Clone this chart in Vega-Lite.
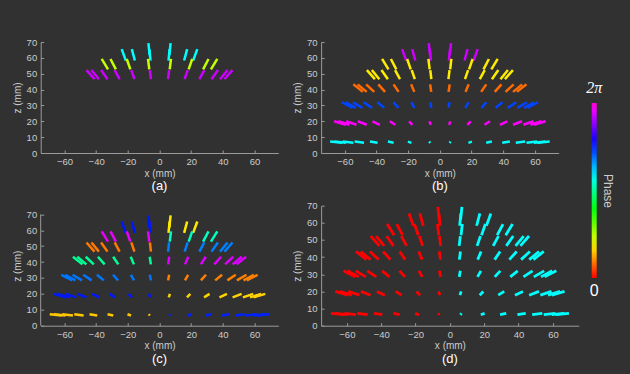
{
  "$schema": "https://vega.github.io/schema/vega-lite/v6.json",
  "autosize": {"type": "none"},
  "padding": {"left": 40.7, "top": 42, "right": 589.3, "bottom": 332},
  "background": "#313131",
  "data": {"values": [
    {"r":8,"xo":-7,"zo":69.3,"xi":-6.23,"zi":61.68,"pa":3.65,"pb":5.84,"pc":4.76,"pd":0},
    {"r":8,"xo":7,"zo":69.3,"xi":6.23,"zi":61.68,"pa":3.65,"pb":5.84,"pc":1.11,"pd":3.65},
    {"r":7,"xo":-6.39,"zo":65.5,"xi":-5.69,"zi":58.3,"pa":3.65,"pb":5.84,"pc":4.76,"pd":0},
    {"r":7,"xo":-17.47,"zo":65.5,"xi":-15.55,"zi":58.3,"pa":3.65,"pb":5.84,"pc":4.76,"pd":0},
    {"r":7,"xo":-23.86,"zo":65.5,"xi":-21.24,"zi":58.3,"pa":3.65,"pb":5.84,"pc":4.76,"pd":0},
    {"r":7,"xo":6.39,"zo":65.5,"xi":5.69,"zi":58.3,"pa":3.65,"pb":5.84,"pc":1.11,"pd":3.65},
    {"r":7,"xo":17.47,"zo":65.5,"xi":15.55,"zi":58.3,"pa":3.65,"pb":5.84,"pc":1.11,"pd":3.65},
    {"r":7,"xo":23.86,"zo":65.5,"xi":21.24,"zi":58.3,"pa":3.65,"pb":5.84,"pc":1.11,"pd":3.65},
    {"r":6,"xo":-7.26,"zo":59.3,"xi":-6.46,"zi":52.78,"pa":1.48,"pb":1.13,"pc":5.98,"pd":0},
    {"r":6,"xo":-20.67,"zo":59.3,"xi":-18.4,"zi":52.78,"pa":1.48,"pb":1.13,"pc":5.98,"pd":0},
    {"r":6,"xo":-30.93,"zo":59.3,"xi":-27.53,"zi":52.78,"pa":1.48,"pb":1.13,"pc":5.98,"pd":0},
    {"r":6,"xo":-36.49,"zo":59.3,"xi":-32.48,"zi":52.78,"pa":1.48,"pb":1.13,"pc":5.98,"pd":0},
    {"r":6,"xo":7.26,"zo":59.3,"xi":6.46,"zi":52.78,"pa":1.48,"pb":1.13,"pc":3.34,"pd":3.65},
    {"r":6,"xo":20.67,"zo":59.3,"xi":18.4,"zi":52.78,"pa":1.48,"pb":1.13,"pc":3.34,"pd":3.65},
    {"r":6,"xo":30.93,"zo":59.3,"xi":27.53,"zi":52.78,"pa":1.48,"pb":1.13,"pc":3.34,"pd":3.65},
    {"r":6,"xo":36.49,"zo":59.3,"xi":32.48,"zi":52.78,"pa":1.48,"pb":1.13,"pc":3.34,"pd":3.65},
    {"r":5,"xo":-6.07,"zo":52.3,"xi":-5.4,"zi":46.55,"pa":5.84,"pb":1.13,"pc":0.57,"pd":0},
    {"r":5,"xo":-17.8,"zo":52.3,"xi":-15.84,"zi":46.55,"pa":5.84,"pb":1.13,"pc":0.57,"pd":0},
    {"r":5,"xo":-28.29,"zo":52.3,"xi":-25.18,"zi":46.55,"pa":5.84,"pb":1.13,"pc":0.57,"pd":0},
    {"r":5,"xo":-36.89,"zo":52.3,"xi":-32.83,"zi":46.55,"pa":5.84,"pb":1.13,"pc":0.57,"pd":0},
    {"r":5,"xo":-42.96,"zo":52.3,"xi":-38.23,"zi":46.55,"pa":5.84,"pb":1.13,"pc":0.57,"pd":0},
    {"r":5,"xo":-46.1,"zo":52.3,"xi":-41.03,"zi":46.55,"pa":5.84,"pb":1.13,"pc":0.57,"pd":0},
    {"r":5,"xo":6.07,"zo":52.3,"xi":5.4,"zi":46.55,"pa":5.84,"pb":1.13,"pc":4.26,"pd":3.65},
    {"r":5,"xo":17.8,"zo":52.3,"xi":15.84,"zi":46.55,"pa":5.84,"pb":1.13,"pc":4.26,"pd":3.65},
    {"r":5,"xo":28.29,"zo":52.3,"xi":25.18,"zi":46.55,"pa":5.84,"pb":1.13,"pc":4.26,"pd":3.65},
    {"r":5,"xo":36.89,"zo":52.3,"xi":32.83,"zi":46.55,"pa":5.84,"pb":1.13,"pc":4.26,"pd":3.65},
    {"r":5,"xo":42.96,"zo":52.3,"xi":38.23,"zi":46.55,"pa":5.84,"pb":1.13,"pc":4.26,"pd":3.65},
    {"r":5,"xo":46.1,"zo":52.3,"xi":41.03,"zi":46.55,"pa":5.84,"pb":1.13,"pc":4.26,"pd":3.65},
    {"r":4,"xo":-6.16,"zo":43.3,"xi":-5.48,"zi":38.54,"pb":0.51,"pc":3.14,"pd":0},
    {"r":4,"xo":-18.17,"zo":43.3,"xi":-16.17,"zi":38.54,"pb":0.51,"pc":3.14,"pd":0},
    {"r":4,"xo":-29.26,"zo":43.3,"xi":-26.04,"zi":38.54,"pb":0.51,"pc":3.14,"pd":0},
    {"r":4,"xo":-38.89,"zo":43.3,"xi":-34.61,"zi":38.54,"pb":0.51,"pc":3.14,"pd":0},
    {"r":4,"xo":-46.57,"zo":43.3,"xi":-41.45,"zi":38.54,"pb":0.51,"pc":3.14,"pd":0},
    {"r":4,"xo":-51.91,"zo":43.3,"xi":-46.2,"zi":38.54,"pb":0.51,"pc":3.14,"pd":0},
    {"r":4,"xo":-54.65,"zo":43.3,"xi":-48.64,"zi":38.54,"pb":0.51,"pc":3.14,"pd":0},
    {"r":4,"xo":6.16,"zo":43.3,"xi":5.48,"zi":38.54,"pb":0.51,"pc":5.92,"pd":3.65},
    {"r":4,"xo":18.17,"zo":43.3,"xi":16.17,"zi":38.54,"pb":0.51,"pc":5.92,"pd":3.65},
    {"r":4,"xo":29.26,"zo":43.3,"xi":26.04,"zi":38.54,"pb":0.51,"pc":5.92,"pd":3.65},
    {"r":4,"xo":38.89,"zo":43.3,"xi":34.61,"zi":38.54,"pb":0.51,"pc":5.92,"pd":3.65},
    {"r":4,"xo":46.57,"zo":43.3,"xi":41.45,"zi":38.54,"pb":0.51,"pc":5.92,"pd":3.65},
    {"r":4,"xo":51.91,"zo":43.3,"xi":46.2,"zi":38.54,"pb":0.51,"pc":5.92,"pd":3.65},
    {"r":4,"xo":54.65,"zo":43.3,"xi":48.64,"zi":38.54,"pb":0.51,"pc":5.92,"pd":3.65},
    {"r":3,"xo":-6.1,"zo":32,"xi":-5.43,"zi":28.48,"pb":4.54,"pc":4.3,"pd":0},
    {"r":3,"xo":-18.07,"zo":32,"xi":-16.08,"zi":28.48,"pb":4.54,"pc":4.3,"pd":0},
    {"r":3,"xo":-29.35,"zo":32,"xi":-26.12,"zi":28.48,"pb":4.54,"pc":4.3,"pd":0},
    {"r":3,"xo":-39.5,"zo":32,"xi":-35.16,"zi":28.48,"pb":4.54,"pc":4.3,"pd":0},
    {"r":3,"xo":-48.13,"zo":32,"xi":-42.84,"zi":28.48,"pb":4.54,"pc":4.3,"pd":0},
    {"r":3,"xo":-54.91,"zo":32,"xi":-48.87,"zi":28.48,"pb":4.54,"pc":4.3,"pd":0},
    {"r":3,"xo":-59.58,"zo":32,"xi":-53.03,"zi":28.48,"pb":4.54,"pc":4.3,"pd":0},
    {"r":3,"xo":-61.96,"zo":32,"xi":-55.14,"zi":28.48,"pb":4.54,"pc":4.3,"pd":0},
    {"r":3,"xo":6.1,"zo":32,"xi":5.43,"zi":28.48,"pb":4.54,"pc":0.61,"pd":3.65},
    {"r":3,"xo":18.07,"zo":32,"xi":16.08,"zi":28.48,"pb":4.54,"pc":0.61,"pd":3.65},
    {"r":3,"xo":29.35,"zo":32,"xi":26.12,"zi":28.48,"pb":4.54,"pc":0.61,"pd":3.65},
    {"r":3,"xo":39.5,"zo":32,"xi":35.16,"zi":28.48,"pb":4.54,"pc":0.61,"pd":3.65},
    {"r":3,"xo":48.13,"zo":32,"xi":42.84,"zi":28.48,"pb":4.54,"pc":0.61,"pd":3.65},
    {"r":3,"xo":54.91,"zo":32,"xi":48.87,"zi":28.48,"pb":4.54,"pc":0.61,"pd":3.65},
    {"r":3,"xo":59.58,"zo":32,"xi":53.03,"zi":28.48,"pb":4.54,"pc":0.61,"pd":3.65},
    {"r":3,"xo":61.96,"zo":32,"xi":55.14,"zi":28.48,"pb":4.54,"pc":0.61,"pd":3.65},
    {"r":2,"xo":-6.57,"zo":20,"xi":-5.85,"zi":17.8,"pb":6.08,"pc":4.75,"pd":0},
    {"r":2,"xo":-19.47,"zo":20,"xi":-17.33,"zi":17.8,"pb":6.08,"pc":4.75,"pd":0},
    {"r":2,"xo":-31.62,"zo":20,"xi":-28.14,"zi":17.8,"pb":6.08,"pc":4.75,"pd":0},
    {"r":2,"xo":-42.56,"zo":20,"xi":-37.88,"zi":17.8,"pb":6.08,"pc":4.75,"pd":0},
    {"r":2,"xo":-51.85,"zo":20,"xi":-46.15,"zi":17.8,"pb":6.08,"pc":4.75,"pd":0},
    {"r":2,"xo":-59.16,"zo":20,"xi":-52.65,"zi":17.8,"pb":6.08,"pc":4.75,"pd":0},
    {"r":2,"xo":-64.19,"zo":20,"xi":-57.13,"zi":17.8,"pb":6.08,"pc":4.75,"pd":0},
    {"r":2,"xo":-66.76,"zo":20,"xi":-59.42,"zi":17.8,"pb":6.08,"pc":4.75,"pd":0},
    {"r":2,"xo":6.57,"zo":20,"xi":5.85,"zi":17.8,"pb":6.08,"pc":1.01,"pd":3.65},
    {"r":2,"xo":19.47,"zo":20,"xi":17.33,"zi":17.8,"pb":6.08,"pc":1.01,"pd":3.65},
    {"r":2,"xo":31.62,"zo":20,"xi":28.14,"zi":17.8,"pb":6.08,"pc":1.01,"pd":3.65},
    {"r":2,"xo":42.56,"zo":20,"xi":37.88,"zi":17.8,"pb":6.08,"pc":1.01,"pd":3.65},
    {"r":2,"xo":51.85,"zo":20,"xi":46.15,"zi":17.8,"pb":6.08,"pc":1.01,"pd":3.65},
    {"r":2,"xo":59.16,"zo":20,"xi":52.65,"zi":17.8,"pb":6.08,"pc":1.01,"pd":3.65},
    {"r":2,"xo":64.19,"zo":20,"xi":57.13,"zi":17.8,"pb":6.08,"pc":1.01,"pd":3.65},
    {"r":2,"xo":66.76,"zo":20,"xi":59.42,"zi":17.8,"pb":6.08,"pc":1.01,"pd":3.65},
    {"r":1,"xo":-6.82,"zo":7.2,"xi":-6.07,"zi":6.41,"pb":3.65,"pc":0.95,"pd":0},
    {"r":1,"xo":-20.21,"zo":7.2,"xi":-17.99,"zi":6.41,"pb":3.65,"pc":0.95,"pd":0},
    {"r":1,"xo":-32.82,"zo":7.2,"xi":-29.21,"zi":6.41,"pb":3.65,"pc":0.95,"pd":0},
    {"r":1,"xo":-44.17,"zo":7.2,"xi":-39.31,"zi":6.41,"pb":3.65,"pc":0.95,"pd":0},
    {"r":1,"xo":-53.82,"zo":7.2,"xi":-47.9,"zi":6.41,"pb":3.65,"pc":0.95,"pd":0},
    {"r":1,"xo":-61.41,"zo":7.2,"xi":-54.65,"zi":6.41,"pb":3.65,"pc":0.95,"pd":0},
    {"r":1,"xo":-66.63,"zo":7.2,"xi":-59.3,"zi":6.41,"pb":3.65,"pc":0.95,"pd":0},
    {"r":1,"xo":-69.3,"zo":7.2,"xi":-61.68,"zi":6.41,"pb":3.65,"pc":0.95,"pd":0},
    {"r":1,"xo":6.82,"zo":7.2,"xi":6.07,"zi":6.41,"pb":3.65,"pc":4.7,"pd":3.65},
    {"r":1,"xo":20.21,"zo":7.2,"xi":17.99,"zi":6.41,"pb":3.65,"pc":4.7,"pd":3.65},
    {"r":1,"xo":32.82,"zo":7.2,"xi":29.21,"zi":6.41,"pb":3.65,"pc":4.7,"pd":3.65},
    {"r":1,"xo":44.17,"zo":7.2,"xi":39.31,"zi":6.41,"pb":3.65,"pc":4.7,"pd":3.65},
    {"r":1,"xo":53.82,"zo":7.2,"xi":47.9,"zi":6.41,"pb":3.65,"pc":4.7,"pd":3.65},
    {"r":1,"xo":61.41,"zo":7.2,"xi":54.65,"zi":6.41,"pb":3.65,"pc":4.7,"pd":3.65},
    {"r":1,"xo":66.63,"zo":7.2,"xi":59.3,"zi":6.41,"pb":3.65,"pc":4.7,"pd":3.65},
    {"r":1,"xo":69.3,"zo":7.2,"xi":61.68,"zi":6.41,"pb":3.65,"pc":4.7,"pd":3.65}
  ]},
  "columns": 2,
  "align": "each",
  "bounds": "flush",
  "spacing": {"row": 52.7, "column": 42.4},
  "resolve": {"scale": {"color": "shared"}, "legend": {"color": "shared"}},
  "concat": [
    {
      "width": 237.6, "height": 111,
      "title": "(a)",
      "transform": [{"filter": "datum.r >= 5"}],
      "mark": {"type": "rule", "strokeWidth": 2.5, "strokeCap": "butt"},
      "encoding": {
        "x": {"field": "xo", "type": "quantitative", "scale": {"domain": [-75, 75], "nice": false, "zero": false}, "axis": {"values": [-60, -40, -20, 0, 20, 40, 60], "title": "x (mm)"}},
        "x2": {"field": "xi"},
        "y": {"field": "zo", "type": "quantitative", "scale": {"domain": [0, 70], "nice": false}, "axis": {"values": [0, 10, 20, 30, 40, 50, 60, 70], "title": "z (mm)"}},
        "y2": {"field": "zi"},
        "color": {"field": "pa", "type": "quantitative", "title": "Phase",
          "scale": {"type": "linear", "domain": [0, 1.2158, 2.4322, 3.6481, 4.8645, 6.0803, 6.2832], "range": ["#ff0000", "#ffff00", "#00ff00", "#00ffff", "#0000ff", "#ff00ff", "#ff00d5"], "interpolate": "rgb"},
          "legend": {"values": [0, 6.2832], "labelExpr": "datum.value < 1 ? '0' : '2π'",
            "encode": {"labels": {"update": {"x": {"value": 2.5}, "align": {"value": "center"}, "baseline": {"signal": "datum.value < 1 ? 'top' : 'bottom'"}, "dy": {"signal": "datum.value < 1 ? 5 : -7"}, "fontStyle": {"signal": "datum.value < 1 ? 'normal' : 'italic'"}, "font": {"signal": "datum.value < 1 ? 'Liberation Sans' : 'Liberation Serif'"}}}}}}
      }
    },
    {
      "width": 237.6, "height": 111,
      "title": "(b)",
      "mark": {"type": "rule", "strokeWidth": 2.5, "strokeCap": "butt"},
      "encoding": {
        "x": {"field": "xo", "type": "quantitative", "scale": {"domain": [-75, 75], "nice": false, "zero": false}, "axis": {"values": [-60, -40, -20, 0, 20, 40, 60], "title": "x (mm)"}},
        "x2": {"field": "xi"},
        "y": {"field": "zo", "type": "quantitative", "scale": {"domain": [0, 70], "nice": false}, "axis": {"values": [0, 10, 20, 30, 40, 50, 60, 70], "title": "z (mm)"}},
        "y2": {"field": "zi"},
        "color": {"field": "pb", "type": "quantitative", "title": "Phase",
          "scale": {"type": "linear", "domain": [0, 1.2158, 2.4322, 3.6481, 4.8645, 6.0803, 6.2832], "range": ["#ff0000", "#ffff00", "#00ff00", "#00ffff", "#0000ff", "#ff00ff", "#ff00d5"], "interpolate": "rgb"},
          "legend": {"values": [0, 6.2832], "labelExpr": "datum.value < 1 ? '0' : '2π'",
            "encode": {"labels": {"update": {"x": {"value": 2.5}, "align": {"value": "center"}, "baseline": {"signal": "datum.value < 1 ? 'top' : 'bottom'"}, "dy": {"signal": "datum.value < 1 ? 5 : -7"}, "fontStyle": {"signal": "datum.value < 1 ? 'normal' : 'italic'"}, "font": {"signal": "datum.value < 1 ? 'Liberation Sans' : 'Liberation Serif'"}}}}}}
      }
    },
    {
      "width": 237.6, "height": 120,
      "title": "(c)",
      "layer": [
        {
          "mark": {"type": "rule", "strokeWidth": 2.5, "strokeCap": "butt"},
          "encoding": {
            "x": {"field": "xo", "type": "quantitative", "title": "x (mm)", "scale": {"domain": [-75, 75], "nice": false, "zero": false}, "axis": {"values": [-60, -40, -20, 0, 20, 40, 60], "title": "x (mm)"}},
            "x2": {"field": "xi"},
            "y": {"field": "zo", "type": "quantitative", "title": "z (mm)", "scale": {"domain": [0, 75.4], "nice": false}, "axis": {"values": [0, 10, 20, 30, 40, 50, 60, 70], "title": "z (mm)", "domain": false}},
            "y2": {"field": "zi"},
            "color": {"field": "pc", "type": "quantitative", "title": "Phase",
              "scale": {"type": "linear", "domain": [0, 1.2158, 2.4322, 3.6481, 4.8645, 6.0803, 6.2832], "range": ["#ff0000", "#ffff00", "#00ff00", "#00ffff", "#0000ff", "#ff00ff", "#ff00d5"], "interpolate": "rgb"},
              "legend": {"values": [0, 6.2832], "labelExpr": "datum.value < 1 ? '0' : '2π'",
                "encode": {"labels": {"update": {"x": {"value": 2.5}, "align": {"value": "center"}, "baseline": {"signal": "datum.value < 1 ? 'top' : 'bottom'"}, "dy": {"signal": "datum.value < 1 ? 5 : -7"}, "fontStyle": {"signal": "datum.value < 1 ? 'normal' : 'italic'"}, "font": {"signal": "datum.value < 1 ? 'Liberation Sans' : 'Liberation Serif'"}}}}}}
          }
        },
        {
          "data": {"values": [{"ax": -75, "a": 0, "b": 70}]},
          "mark": {"type": "rule", "color": "#9a9a9a", "strokeWidth": 1},
          "encoding": {
            "x": {"field": "ax", "type": "quantitative", "title": "x (mm)", "scale": {"domain": [-75, 75], "nice": false, "zero": false}, "axis": {"values": [-60, -40, -20, 0, 20, 40, 60], "title": "x (mm)"}},
            "y": {"field": "a", "type": "quantitative", "title": "z (mm)", "scale": {"domain": [0, 75.4], "nice": false}, "axis": {"values": [0, 10, 20, 30, 40, 50, 60, 70], "title": "z (mm)", "domain": false}},
            "y2": {"field": "b"}
          }
        }
      ]
    },
    {
      "width": 257.6, "height": 120,
      "title": "(d)",
      "mark": {"type": "rule", "strokeWidth": 2.8, "strokeCap": "butt"},
      "encoding": {
        "x": {"field": "xo", "type": "quantitative", "scale": {"domain": [-75, 75], "nice": false, "zero": false}, "axis": {"values": [-60, -40, -20, 0, 20, 40, 60], "title": "x (mm)"}},
        "x2": {"field": "xi"},
        "y": {"field": "zo", "type": "quantitative", "scale": {"domain": [0, 70], "nice": false}, "axis": {"values": [0, 10, 20, 30, 40, 50, 60, 70], "title": "z (mm)"}},
        "y2": {"field": "zi"},
        "color": {"field": "pd", "type": "quantitative", "title": "Phase",
          "scale": {"type": "linear", "domain": [0, 1.2158, 2.4322, 3.6481, 4.8645, 6.0803, 6.2832], "range": ["#ff0000", "#ffff00", "#00ff00", "#00ffff", "#0000ff", "#ff00ff", "#ff00d5"], "interpolate": "rgb"},
          "legend": {"values": [0, 6.2832], "labelExpr": "datum.value < 1 ? '0' : '2π'",
            "encode": {"labels": {"update": {"x": {"value": 2.5}, "align": {"value": "center"}, "baseline": {"signal": "datum.value < 1 ? 'top' : 'bottom'"}, "dy": {"signal": "datum.value < 1 ? 5 : -7"}, "fontStyle": {"signal": "datum.value < 1 ? 'normal' : 'italic'"}, "font": {"signal": "datum.value < 1 ? 'Liberation Sans' : 'Liberation Serif'"}}}}}}
      }
    }
  ],
  "config": {
    "view": {"stroke": null},
    "font": "Liberation Sans",
    "axis": {"grid": false, "domainColor": "#9a9a9a", "domainWidth": 1, "tickColor": "#9a9a9a", "tickSize": -3, "labelColor": "#cccccc", "labelFontSize": 9.5, "labelFont": "Liberation Sans", "titleColor": "#cccccc", "titleFontSize": 10, "titleFontWeight": "normal", "titleFont": "Liberation Sans"},
    "axisX": {"labelPadding": 6.5, "titlePadding": 2},
    "axisY": {"labelPadding": 7, "titlePadding": 4},
    "title": {"orient": "bottom", "anchor": "middle", "color": "#ffffff", "fontSize": 13, "fontWeight": "normal", "font": "Liberation Sans", "offset": 2},
    "legend": {
      "orient": "none", "legendX": 551, "legendY": 61, "padding": 0,
      "direction": "vertical",
      "gradientLength": 175, "gradientThickness": 5, "gradientStrokeWidth": 0,
      "titleOrient": "right", "titleAnchor": "middle", "titleColor": "#cccccc", "titleFontSize": 12, "titleFontWeight": "normal", "titlePadding": -2, "titleFont": "Liberation Sans",
      "labelColor": "#ffffff", "labelFontSize": 16
    }
  }
}
